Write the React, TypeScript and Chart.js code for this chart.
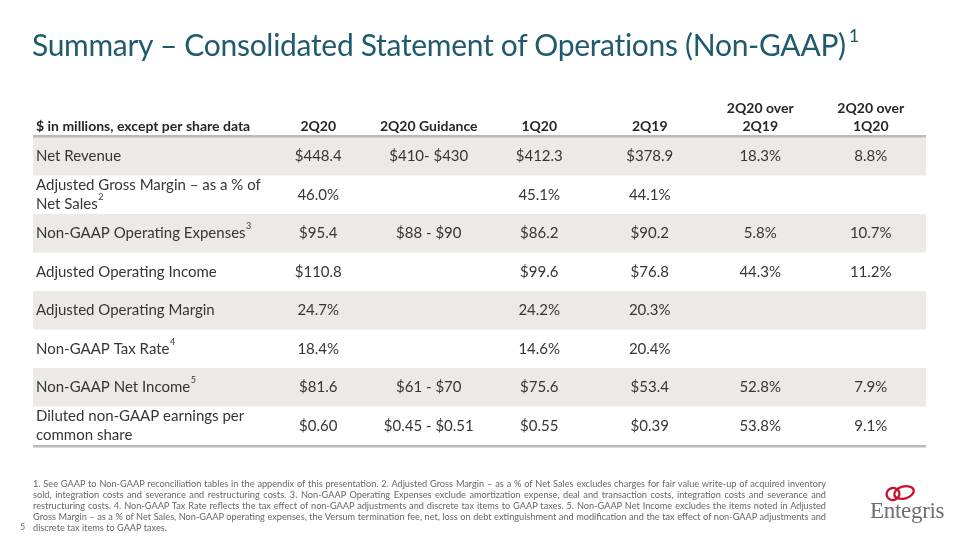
import React, { useEffect, useRef } from "react";
import { Chart, registerables } from "chart.js";

Chart.register(...registerables);

// ---------- data ----------
const columnKeys = ["2Q20", "2Q20 Guidance", "1Q20", "2Q19", "2Q20 over 2Q19", "2Q20 over 1Q20"];
const columnHeaders = [["2Q20"], ["2Q20 Guidance"], ["1Q20"], ["2Q19"], ["2Q20 over", "2Q19"], ["2Q20 over", "1Q20"]];
const stubHeader = "$ in millions, except per share data";

const rowKeys = [
  "Net Revenue",
  "Adjusted Gross Margin",
  "Non-GAAP Operating Expenses",
  "Adjusted Operating Income",
  "Adjusted Operating Margin",
  "Non-GAAP Tax Rate",
  "Non-GAAP Net Income",
  "Diluted non-GAAP EPS",
];
const rowLabels = [
  ["Net Revenue"],
  ["Adjusted Gross Margin – as a % of", "Net Sales"],
  ["Non-GAAP Operating Expenses"],
  ["Adjusted Operating Income"],
  ["Adjusted Operating Margin"],
  ["Non-GAAP Tax Rate"],
  ["Non-GAAP Net Income"],
  ["Diluted non-GAAP earnings per", "common share"],
];
const rowNotes = ["", "2", "3", "", "", "4", "5", ""];

const q2_20 = ["$448.4", "46.0%", "$95.4", "$110.8", "24.7%", "18.4%", "$81.6", "$0.60"];
const guidance = ["$410- $430", "", "$88 - $90", "", "", "", "$61 - $70", "$0.45 - $0.51"];
const q1_20 = ["$412.3", "45.1%", "$86.2", "$99.6", "24.2%", "14.6%", "$75.6", "$0.55"];
const q2_19 = ["$378.9", "44.1%", "$90.2", "$76.8", "20.3%", "20.4%", "$53.4", "$0.39"];
const over2Q19 = ["18.3%", "", "5.8%", "44.3%", "", "", "52.8%", "53.8%"];
const over1Q20 = ["8.8%", "", "10.7%", "11.2%", "", "", "7.9%", "9.1%"];

const footnoteLines = [
  "1. See GAAP to Non-GAAP reconciliation tables in the appendix of this presentation. 2. Adjusted Gross Margin – as a % of Net Sales excludes charges for fair value write-up of acquired inventory",
  "sold, integration costs  and severance and restructuring costs. 3. Non-GAAP Operating Expenses exclude amortization expense, deal and transaction costs, integration costs and severance and",
  "restructuring costs. 4. Non-GAAP Tax Rate reflects the tax effect of non-GAAP adjustments and discrete tax items to GAAP taxes. 5. Non-GAAP Net Income excludes the items noted in Adjusted",
  "Gross Margin – as a % of Net Sales, Non-GAAP operating expenses, the Versum termination fee, net, loss on debt extinguishment and modification and the tax effect of non-GAAP adjustments and",
  "discrete tax items to GAAP taxes.",
];

// ---------- styles ----------
const FONT = "Lato, 'Open Sans', sans-serif";
const TABLE_LEFT = 33;
const BAND = "#ECE9E6";
const RULE = "#BEB9B4";
const TEXT = "#363636";

type Cell = { x: string; y: string; text: string };

function buildCells(): Cell[] {
  const series = [q2_20, guidance, q1_20, q2_19, over2Q19, over1Q20];
  const cells: Cell[] = [];
  series.forEach((vals, c) =>
    vals.forEach((v, r) => {
      if (v) cells.push({ x: columnKeys[c], y: rowKeys[r], text: v });
    })
  );
  return cells;
}

const tablePlugin = {
  id: "tablePlugin",
  beforeDatasetsDraw(chart: any) {
    const { ctx, chartArea, scales } = chart;
    const y = scales.y;
    const h = chartArea.height / rowKeys.length;
    const w = chartArea.right - TABLE_LEFT;
    ctx.save();
    rowKeys.forEach((_, r) => {
      if (r % 2 === 0) {
        const yc = y.getPixelForValue(r);
        ctx.fillStyle = BAND;
        ctx.fillRect(TABLE_LEFT, yc - h / 2, w, h);
      }
    });
    ctx.fillStyle = RULE;
    ctx.fillRect(TABLE_LEFT, chartArea.top - 2, w, 2.5);
    ctx.fillRect(TABLE_LEFT, chartArea.bottom, w, 2.5);
    ctx.restore();
  },
  afterDatasetsDraw(chart: any) {
    const { ctx, chartArea, scales } = chart;
    const x = scales.x;
    const y = scales.y;
    ctx.save();
    // headers
    const headerBase = chartArea.top - 6;
    const hLine = 18.5;
    ctx.fillStyle = "#262626";
    ctx.font = `bold 14px ${FONT}`;
    ctx.textBaseline = "alphabetic";
    ctx.textAlign = "left";
    ctx.fillText(stubHeader, TABLE_LEFT + 3, headerBase);
    ctx.textAlign = "center";
    columnHeaders.forEach((lines, c) => {
      const xc = x.getPixelForValue(c);
      lines.forEach((ln, i) => {
        ctx.fillText(ln, xc, headerBase - (lines.length - 1 - i) * hLine);
      });
    });
    // row labels
    ctx.fillStyle = TEXT;
    ctx.textBaseline = "middle";
    ctx.textAlign = "left";
    const lh = 19;
    rowLabels.forEach((lines, r) => {
      const yc = y.getPixelForValue(r);
      lines.forEach((ln, i) => {
        const ly = yc + (i - (lines.length - 1) / 2) * lh;
        ctx.font = `15px ${FONT}`;
        ctx.fillText(ln, TABLE_LEFT + 3, ly);
        if (i === lines.length - 1 && rowNotes[r]) {
          const tw = ctx.measureText(ln).width;
          ctx.font = `9px ${FONT}`;
          ctx.fillText(rowNotes[r], TABLE_LEFT + 3 + tw + 0.5, ly - 7);
        }
      });
    });
    // cells
    ctx.font = `15px ${FONT}`;
    ctx.textAlign = "center";
    const meta = chart.getDatasetMeta(0);
    const data = chart.data.datasets[0].data as Cell[];
    meta.data.forEach((pt: any, i: number) => {
      ctx.fillText(data[i].text, pt.x, pt.y);
    });
    ctx.restore();
  },
};

export default function App() {
  const ref = useRef<HTMLCanvasElement | null>(null);
  useEffect(() => {
    if (!ref.current) return;
    const chart = new Chart(ref.current, {
      type: "scatter",
      data: {
        datasets: [
          {
            data: buildCells() as any,
            pointRadius: 0,
            pointHoverRadius: 0,
            showLine: false,
          },
        ],
      },
      options: {
        animation: false,
        responsive: false,
        events: [],
        layout: { padding: { left: 263, right: 34, top: 137, bottom: 95 } },
        plugins: { legend: { display: false }, tooltip: { enabled: false } },
        scales: {
          x: { type: "category", labels: columnKeys, offset: true, display: false },
          y: { type: "category", labels: rowKeys, offset: true, display: false },
        },
      },
      plugins: [tablePlugin],
    });
    return () => chart.destroy();
  }, []);

  return (
    <div style={{ position: "absolute", left: 0, top: 0, width: 960, height: 540, background: "#fff", overflow: "hidden", fontFamily: FONT }}>
      <canvas ref={ref} width={960} height={540} style={{ position: "absolute", left: 0, top: 0 }} />
      <div
        style={{
          position: "absolute",
          left: 32,
          top: 26,
          fontSize: 30,
          lineHeight: "36px",
          color: "#1F5A6D",
          whiteSpace: "nowrap",
          letterSpacing: -0.3,
        }}
      >
        Summary – Consolidated Statement of Operations (Non-GAAP)
        <span style={{ fontSize: 18, position: "relative", top: -14, marginLeft: 3 }}>1</span>
      </div>
      <div
        style={{
          position: "absolute",
          left: 33,
          top: 478,
          width: 793,
          fontSize: 9.2,
          lineHeight: "11px",
          color: "#666666",
        }}
      >
        {footnoteLines.map((l, i) => (
          <div
            key={i}
            style={
              i < footnoteLines.length - 1
                ? { textAlign: "justify", textAlignLast: "justify", whiteSpace: "nowrap" }
                : { textAlign: "left", whiteSpace: "nowrap" }
            }
          >
            {l}
          </div>
        ))}
      </div>
      <div style={{ position: "absolute", left: 20, top: 521, fontSize: 9, lineHeight: "11px", color: "#6B6B6B" }}>5</div>
      <svg width={60} height={22} style={{ position: "absolute", left: 879, top: 482 }}>
        <ellipse cx={14} cy={12} rx={6.5} ry={6} fill="none" stroke="#C8102E" strokeWidth={2.3} transform="rotate(-20 14 12)" />
        <ellipse cx={25} cy={10.5} rx={10} ry={6} fill="none" stroke="#C8102E" strokeWidth={2.3} transform="rotate(-15 25 10.5)" />
      </svg>
      <div
        style={{
          position: "absolute",
          left: 870,
          top: 498,
          fontFamily: "'Liberation Serif', 'DejaVu Serif', serif",
          fontSize: 23,
          lineHeight: "25px",
          color: "#6E6E6E",
          letterSpacing: -0.3,
        }}
      >
        Entegris
      </div>
    </div>
  );
}
